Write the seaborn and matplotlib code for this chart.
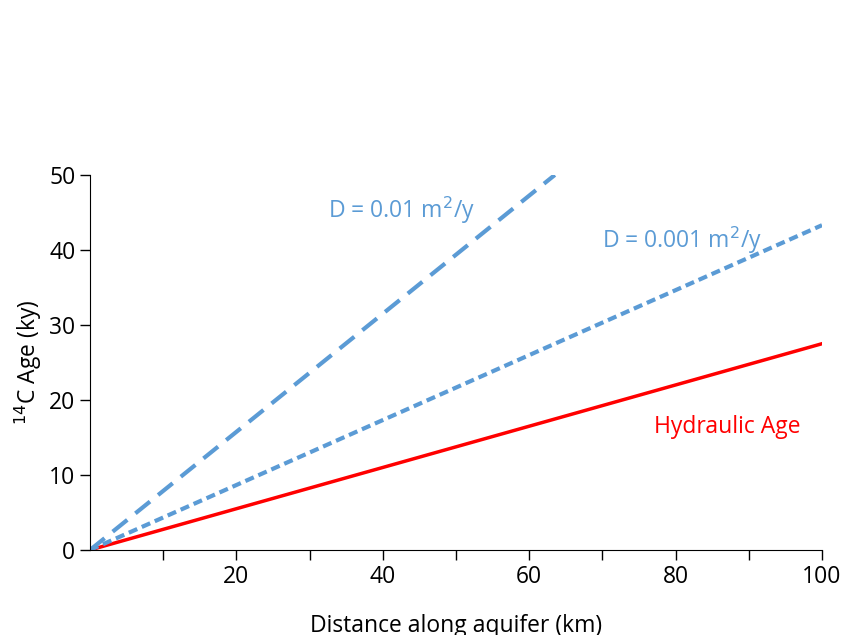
import numpy as np
import pandas as pd
import matplotlib.pyplot as plt
import seaborn as sns

plt.rcParams['font.family'] = 'Open Sans'

# data
hyd_x = [0, 100]
hyd_y = [0, 27.5]
d001_x = [0, 100]
d001_y = [0, 43.3]
d01_x = [0, 63.5]
d01_y = [0, 50]

fig = plt.figure(figsize=(8.45, 6.35), dpi=100)
ax = fig.add_axes([0.1065, 0.1339, 0.8663, 0.5906])

blue = '#5b9bd5'
sns.lineplot(x=hyd_x, y=hyd_y, ax=ax, color='red', linewidth=2.5)
sns.lineplot(x=d001_x, y=d001_y, ax=ax, color=blue, linewidth=3, dashes=False,
             linestyle=(0, (2.2, 1.2)))
sns.lineplot(x=d01_x, y=d01_y, ax=ax, color=blue, linewidth=3, dashes=False,
             linestyle=(0, (4.5, 2.5)))

ax.set_xlim(0, 100)
ax.set_ylim(0, 50)
ax.set_xticks(np.arange(10, 101, 10))
ax.set_xticklabels(['' if v % 20 else str(v) for v in range(10, 101, 10)])
ax.set_yticks(np.arange(0, 51, 10))
ax.tick_params(labelsize=16.5, length=7, direction='out', width=1)
ax.spines['top'].set_visible(False)
ax.spines['right'].set_visible(False)
ax.set_xlabel('Distance along aquifer (km)', fontsize=16.5, labelpad=18)
ax.set_ylabel('$^{14}$C Age (ky)', fontsize=16.5, labelpad=4)

ax.text(32.5, 44.3, 'D = 0.01 m$^2$/y', color=blue, fontsize=16.5)
ax.text(70, 40.3, 'D = 0.001 m$^2$/y', color=blue, fontsize=16.5)
ax.text(77, 15.6, 'Hydraulic Age', color='red', fontsize=16.5)

fig.savefig('out.png', dpi=100)
